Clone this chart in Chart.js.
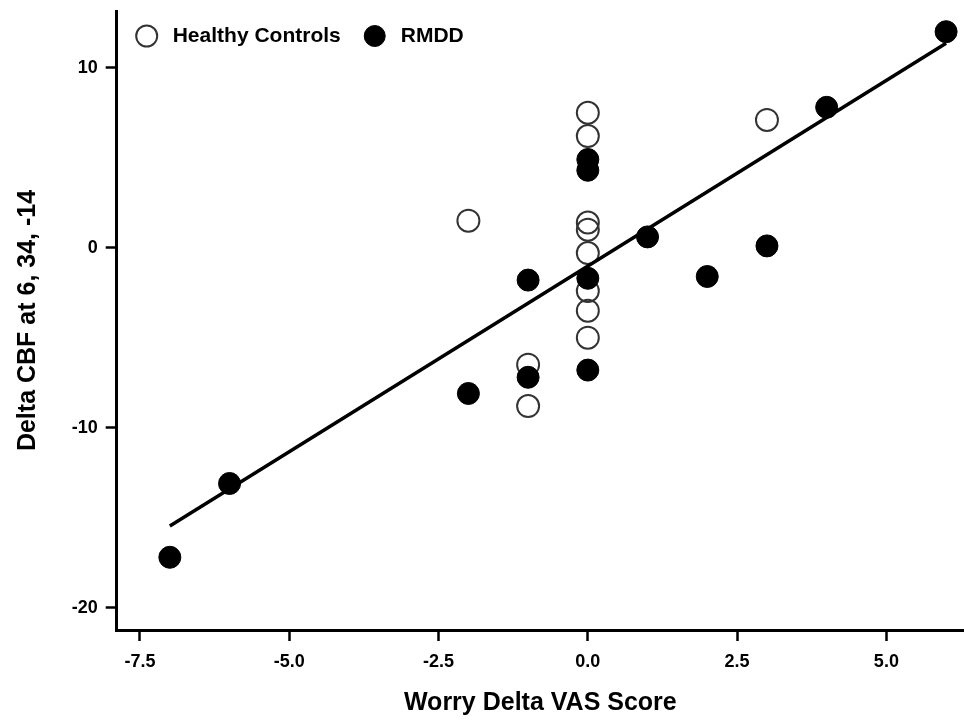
<!DOCTYPE html>
<html lang="en">
<head>
    <meta charset="UTF-8">
    <title>Delta CBF vs Worry Delta VAS Score</title>
    <script src="https://cdn.jsdelivr.net/npm/chart.js"></script>
    <style>
        body { margin: 0; background: #fff; }
        .chart-box { width: 964px; height: 726px; }
    </style>
</head>
<body>
    <div class="chart-box">
        <canvas id="graphique"></canvas>
    </div>

    <script>
        // values
        const hcX = [-2, -1, -1, 0, 0, 0, 0, 0, 0, 0, 0, 3];
        const hcY = [1.5, -6.5, -8.8, 7.5, 6.2, 1.4, 1.0, -0.3, -2.4, -3.5, -5.0, 7.1];

        const rmddX = [-7, -6, -2, -1, -1, 0, 0, 0, 0, 1, 2, 3, 4, 6];
        const rmddY = [-17.2, -13.1, -8.1, -1.8, -7.2, 4.9, 4.3, -1.7, -6.8, 0.6, -1.6, 0.1, 7.8, 12.0];

        // fitted line, end points
        const fitX = [-7, 6];
        const fitY = [-15.46, 11.36];

        const xTicks = [-7.5, -5.0, -2.5, 0.0, 2.5, 5.0];
        const yTicks = [-20, -10, 0, 10];

        const toPoints = (xs, ys) => xs.map((x, i) => ({ x: x, y: ys[i] }));

        Chart.defaults.font.family = "'Liberation Sans', Arial, sans-serif";
        Chart.defaults.color = '#000';

        const tickFont = { size: 18, weight: 'bold' };
        const titleFont = { size: 25, weight: 'bold' };

        // legend in one row, inside the top-left corner of the plot
        const cornerLegend = {
            id: 'cornerLegend',
            afterDraw(chart) {
                const c = chart.ctx;
                const area = chart.chartArea;
                const y = area.top + 25;
                let cx = area.left + 30;
                c.save();
                c.font = "bold 21px 'Liberation Sans', Arial, sans-serif";
                c.textBaseline = 'middle';
                c.textAlign = 'left';
                chart.data.datasets.forEach(ds => {
                    if (ds.type === 'line') return;
                    c.beginPath();
                    c.arc(cx, y, 10.5, 0, Math.PI * 2);
                    c.fillStyle = ds.backgroundColor;
                    c.fill();
                    c.lineWidth = ds.borderWidth;
                    c.strokeStyle = ds.borderColor;
                    c.stroke();
                    const tx = cx + 26;
                    c.fillStyle = '#000';
                    c.fillText(ds.label, tx, y);
                    cx = tx + c.measureText(ds.label).width + 34;
                });
                c.restore();
            }
        };

        const ctx = document.getElementById('graphique').getContext('2d');
        const myChart = new Chart(ctx, {
            type: 'scatter',
            data: {
                datasets: [{
                    label: 'Healthy Controls',
                    data: toPoints(hcX, hcY),
                    backgroundColor: 'rgba(255,255,255,0)',
                    borderColor: '#333',
                    borderWidth: 2,
                    pointRadius: 11,
                    order: 2
                }, {
                    label: 'RMDD',
                    data: toPoints(rmddX, rmddY),
                    backgroundColor: '#000',
                    borderColor: '#000',
                    borderWidth: 1,
                    pointRadius: 11,
                    order: 0
                }, {
                    type: 'line',
                    label: 'fit',
                    data: toPoints(fitX, fitY),
                    borderColor: '#000',
                    borderWidth: 3.5,
                    pointRadius: 0,
                    fill: false,
                    order: 1
                }]
            },
            options: {
                responsive: true,
                maintainAspectRatio: false,
                animation: false,
                layout: { autoPadding: false, padding: { top: 11, left: 0, right: 0, bottom: 0 } },
                plugins: {
                    tooltip: { enabled: false },
                    legend: { display: false }
                },
                scales: {
                    x: {
                        type: 'linear',
                        min: -7.89,
                        max: 6.3,
                        border: { display: true, color: '#000', width: 3 },
                        grid: { drawOnChartArea: false, drawTicks: true, tickLength: 11, tickWidth: 2.5, tickColor: '#000' },
                        ticks: {
                            color: '#000',
                            font: tickFont,
                            padding: 10,
                            callback: v => Number(v).toFixed(1)
                        },
                        afterBuildTicks: s => { s.ticks = xTicks.map(v => ({ value: v })); },
                        afterFit: s => { s.height = 96; s.paddingLeft = 0; s.paddingRight = 0; },
                        title: {
                            display: true,
                            text: 'Worry Delta VAS Score',
                            color: '#000',
                            font: titleFont,
                            padding: { top: 0, bottom: 8 }
                        }
                    },
                    y: {
                        type: 'linear',
                        min: -21.24,
                        max: 13.15,
                        border: { display: true, color: '#000', width: 3 },
                        grid: { drawOnChartArea: false, drawTicks: true, tickLength: 11, tickWidth: 2.5, tickColor: '#000' },
                        ticks: {
                            color: '#000',
                            font: tickFont,
                            padding: 8,
                            callback: v => String(v)
                        },
                        afterBuildTicks: s => { s.ticks = yTicks.map(v => ({ value: v })); },
                        afterFit: s => { s.width = 116.7; s.paddingTop = 0; s.paddingBottom = 0; },
                        title: {
                            display: true,
                            text: 'Delta CBF at 6, 34, -14',
                            color: '#000',
                            font: titleFont,
                            padding: { top: 13, bottom: 0 }
                        }
                    }
                }
            },
            plugins: [cornerLegend]
        });
    </script>
</body>
</html>
